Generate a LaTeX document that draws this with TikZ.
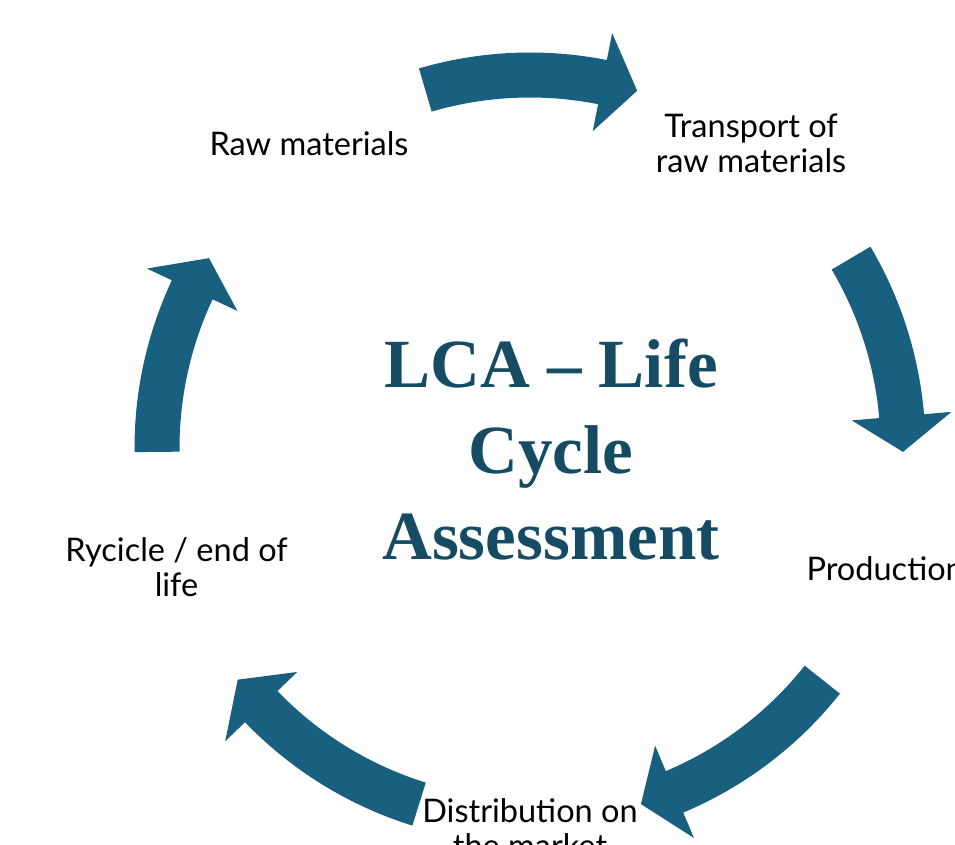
\documentclass[tikz,border=0pt]{standalone}
\usepackage{fontspec}
\setmainfont{Lato}
\newfontfamily\titlefont{Liberation Serif}
\usetikzlibrary{positioning}
\definecolor{arrowblue}{HTML}{185F80}
\definecolor{titleblue}{HTML}{164B64}
\tikzset{
stage/.style={align=center, text=black, font=\fontsize{32.5}{35}\selectfont}, % the five stage labels
lcatitle/.style={align=center, text=titleblue, font=\titlefont\bfseries\fontsize{69}{86}\selectfont}, % centre title
bigarrow/.style={fill=arrowblue}, % the curved block arrows
}
% curved block arrow along the cycle: #1 tail angle, #2 tip angle
\newcommand{\bendarrow}[2]{%
  \pgfmathsetmacro{\headbase}{#2+5.5}
  \fill[bigarrow] (#1:395.5pt) arc[start angle=#1, end angle=\headbase, radius=395.5pt]
      -- (\headbase:423pt) -- (#2:373pt) -- (\headbase:323pt)
      -- (\headbase:350.5pt) arc[start angle=\headbase, end angle=#1, radius=350.5pt] -- cycle;
}

\begin{document}
\begin{tikzpicture}

            \useasboundingbox (-530pt,-397pt) rectangle (425pt,448pt);

            \node[lcatitle] (lca) at (21pt,-2pt) {LCA – Life\\Cycle\\Assessment};

            \node[stage] (raw) at (126:376pt) {Raw materials};
            \node[stage] (transport) at (54:376pt) {Transport of\\raw materials};
            \node[stage] (prod) at (-18.7:375pt) {Production};
            \node[stage] (distr) at (-90:380pt) {Distribution on\\the market};
            \node[stage] (recycle) at (198.6:373pt) {Rycicle / end of\\life};

            \bendarrow{106.3}{73.3}
            \bendarrow{30.6}{-0.6}
            \bendarrow{-38.4}{-72.7}
            \bendarrow{252.7}{218.4}
            \bendarrow{180.6}{149.4}
        \end{tikzpicture}
\end{document}
